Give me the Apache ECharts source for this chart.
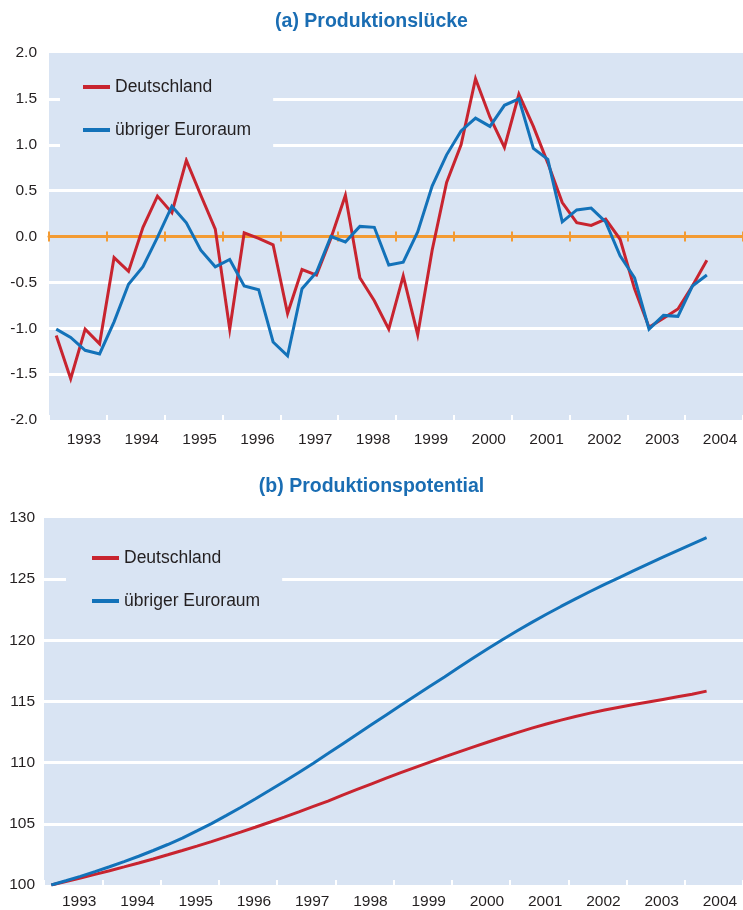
<!DOCTYPE html>
<html><head><meta charset="utf-8">
<script src="https://cdn.jsdelivr.net/npm/echarts@6/dist/echarts.min.js"></script>
<style>html,body{margin:0;padding:0;background:#fff}#c{width:743px;height:910px}</style>
</head><body><div id="c"></div>
<script>
// Year labels (x axis), quarterly data 1993Q1 .. 2004Q2
const years = ['1993','1994','1995','1996','1997','1998','1999','2000','2001','2002','2003','2004'];
const seriesNames = ['Deutschland', 'übriger Euroraum'];

// (a) Produktionslücke
const gapDE = [-1.08,-1.55,-1.01,-1.17,-0.23,-0.38,0.10,0.44,0.26,0.83,0.45,0.08,
  -1.01,0.04,-0.02,-0.09,-0.84,-0.36,-0.42,-0.02,0.45,-0.45,-0.70,-1.01,
  -0.43,-1.07,-0.15,0.59,1.00,1.72,1.30,0.97,1.55,1.20,0.80,0.37,
  0.15,0.12,0.19,-0.03,-0.57,-0.99,-0.89,-0.79,-0.54,-0.26];
const gapEU = [-1.01,-1.10,-1.24,-1.28,-0.93,-0.52,-0.33,-0.01,0.33,0.15,-0.15,-0.33,
  -0.25,-0.54,-0.58,-1.15,-1.30,-0.57,-0.39,0.00,-0.06,0.11,0.10,-0.31,
  -0.28,0.05,0.55,0.89,1.15,1.29,1.20,1.43,1.50,0.96,0.84,0.16,
  0.29,0.31,0.16,-0.21,-0.45,-1.01,-0.86,-0.87,-0.54,-0.42];

// (b) Produktionspotential
const potDE = [100.00,100.28,100.57,100.87,101.17,101.48,101.80,102.13,102.47,102.82,103.18,103.55,
  103.93,104.32,104.72,105.13,105.55,105.98,106.42,106.86,107.35,107.81,108.27,108.73,
  109.18,109.62,110.05,110.47,110.88,111.29,111.69,112.08,112.46,112.82,113.16,113.48,
  113.78,114.05,114.30,114.53,114.75,114.96,115.17,115.38,115.59,115.85];
const potEU = [100.00,100.35,100.71,101.09,101.49,101.91,102.35,102.82,103.31,103.83,104.42,105.02,
  105.67,106.34,107.03,107.74,108.46,109.20,109.96,110.74,111.53,112.32,113.11,113.90,
  114.69,115.47,116.24,117.01,117.80,118.57,119.33,120.07,120.78,121.47,122.13,122.77,
  123.39,123.99,124.57,125.13,125.69,126.25,126.80,127.34,127.87,128.39];

const RED = '#c8242f', BLUE = '#1372b9', BG = '#d9e4f3', ORANGE = '#f39b33', TXT = '#231f20';
const FONT = '"Liberation Sans", Arial, sans-serif';
const pts = arr => arr.map((v, i) => [i + 0.5, v]);

const chart = echarts.init(document.getElementById('c'), null, {renderer: 'canvas'});

function yearAxis(grid, opts) {
  return Object.assign({
    type: 'category', gridIndex: grid, data: years, boundaryGap: true, position: 'bottom',
    axisLine: {show: false, onZero: false},
    axisTick: {show: false},
    axisLabel: {show: false},
    splitLine: {show: false}
  }, opts);
}

const option = {
  animation: false,
  textStyle: {fontFamily: FONT},
  title: [
    {text: '(a) Produktionslücke', left: 'center', top: 7,
     textStyle: {color: '#1a6db3', fontSize: 19.5, fontWeight: 'bold', fontFamily: FONT}},
    {text: '(b) Produktionspotential', left: 'center', top: 472,
     textStyle: {color: '#1a6db3', fontSize: 19.5, fontWeight: 'bold', fontFamily: FONT}}
  ],
  legend: [
    {data: seriesNames, orient: 'vertical', left: 60, top: 60, padding: [17, 22, 17, 23],
     backgroundColor: BG, icon: 'rect', itemWidth: 27, itemHeight: 4, itemGap: 23,
     selectedMode: false,
     textStyle: {fontSize: 17.5, lineHeight: 20, color: TXT, fontFamily: FONT}},
    {data: seriesNames, orient: 'vertical', left: 66, top: 531, padding: [17, 22, 17, 26],
     backgroundColor: BG, icon: 'rect', itemWidth: 27, itemHeight: 4, itemGap: 23,
     selectedMode: false,
     textStyle: {fontSize: 17.5, lineHeight: 20, color: TXT, fontFamily: FONT}}
  ],
  grid: [
    {left: 49, right: -2, top: 53, bottom: 490, show: true, backgroundColor: BG, borderWidth: 0, containLabel: false},
    {left: 44, right: -2, top: 518, bottom: 25, show: true, backgroundColor: BG, borderWidth: 0, containLabel: false}
  ],
  xAxis: [
    {type: 'value', gridIndex: 0, min: 0, max: 48, show: false, axisLine: {onZero: false}},
    {type: 'value', gridIndex: 1, min: 0, max: 48, show: false, axisLine: {onZero: false}},
    yearAxis(0, {axisTick: {show: true, inside: true, length: 5, lineStyle: {color: '#ffffff', width: 2}},
      axisLabel: {show: true, margin: 12, fontSize: 15.5, color: TXT, fontFamily: FONT, padding: [0, 0, 0, 12]}}),
    yearAxis(1, {axisTick: {show: true, inside: true, length: 5, lineStyle: {color: '#ffffff', width: 2}},
      axisLabel: {show: true, margin: 9, fontSize: 15.5, color: TXT, fontFamily: FONT, padding: [0, 0, 0, 12]}}),
    yearAxis(0, {axisLine: {show: true, onZero: true, onZeroAxisIndex: 0, lineStyle: {color: ORANGE, width: 3}},
      axisTick: {show: true, inside: true, length: 5, lineStyle: {color: ORANGE, width: 2}}}),
    yearAxis(0, {axisLine: {show: false, onZero: true, onZeroAxisIndex: 0},
      axisTick: {show: true, inside: false, length: 5, lineStyle: {color: ORANGE, width: 2}}})
  ],
  yAxis: [
    {type: 'value', gridIndex: 0, min: -2, max: 2, interval: 0.5,
     axisLine: {show: false, onZero: false}, axisTick: {show: false},
     axisLabel: {margin: 12, fontSize: 15.5, color: TXT, fontFamily: FONT, formatter: v => v.toFixed(1)},
     splitLine: {show: true, showMinLine: false, showMaxLine: false, lineStyle: {color: '#ffffff', width: 3}}},
    {type: 'value', gridIndex: 1, min: 100, max: 130, interval: 5,
     axisLine: {show: false, onZero: false}, axisTick: {show: false},
     axisLabel: {margin: 9, fontSize: 15.5, color: TXT, fontFamily: FONT},
     splitLine: {show: true, showMinLine: false, showMaxLine: false, lineStyle: {color: '#ffffff', width: 3}}}
  ],
  series: [
    {name: seriesNames[0], type: 'line', xAxisIndex: 0, yAxisIndex: 0, data: pts(gapDE),
     showSymbol: false, color: RED, lineStyle: {color: RED, width: 3, join: 'miter'}, z: 3},
    {name: seriesNames[1], type: 'line', xAxisIndex: 0, yAxisIndex: 0, data: pts(gapEU),
     showSymbol: false, color: BLUE, lineStyle: {color: BLUE, width: 3, join: 'miter'}, z: 4},
    {name: seriesNames[0], type: 'line', xAxisIndex: 1, yAxisIndex: 1, data: pts(potDE),
     showSymbol: false, color: RED, lineStyle: {color: RED, width: 3}, z: 3},
    {name: seriesNames[1], type: 'line', xAxisIndex: 1, yAxisIndex: 1, data: pts(potEU),
     showSymbol: false, color: BLUE, lineStyle: {color: BLUE, width: 3}, z: 4}
  ]
};
chart.setOption(option);
</script>
</body></html>
